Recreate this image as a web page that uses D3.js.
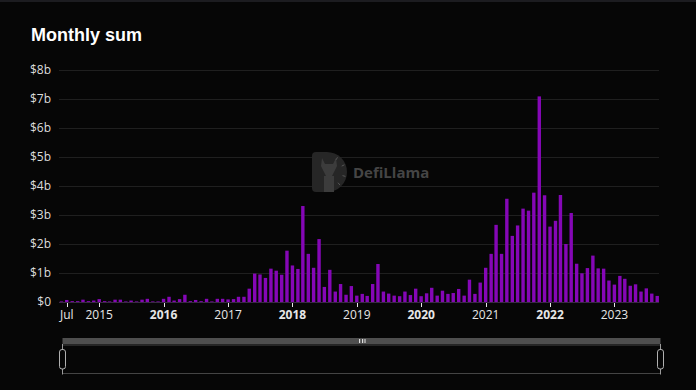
<!DOCTYPE html>
<html>
<head>
<meta charset="utf-8">
<script src="https://cdn.jsdelivr.net/npm/d3@7"></script>
<style>
  html, body { margin: 0; padding: 0; background: #060606; }
  .canvas { width: 696px; height: 390px; }
</style>
</head>
<body>
<div class="canvas"></div>
<script>
// Monthly sums in $ billions, one per month starting Jun 2014
const startMonth = new Date(2014, 5, 1);
const monthlySum = [
  // 2014 (Jun-Dec)
  0.02, 0.07, 0.03, 0.03, 0.08, 0.03, 0.05,
  // 2015
  0.10, 0.03, 0.02, 0.08, 0.08, 0.02, 0.05, 0.02, 0.08, 0.11, 0.02, 0.02,
  // 2016
  0.11, 0.18, 0.05, 0.10, 0.25, 0.03, 0.07, 0.03, 0.11, 0.02, 0.11, 0.11,
  // 2017
  0.09, 0.10, 0.18, 0.18, 0.46, 0.98, 0.95, 0.83, 1.15, 1.08, 0.94, 1.77,
  // 2018
  1.26, 1.14, 3.31, 1.66, 1.18, 2.17, 0.52, 1.11, 0.36, 0.62, 0.25, 0.55,
  // 2019
  0.22, 0.28, 0.21, 0.62, 1.31, 0.36, 0.29, 0.22, 0.20, 0.36, 0.24, 0.46,
  // 2020
  0.20, 0.30, 0.49, 0.22, 0.39, 0.28, 0.31, 0.45, 0.22, 0.77, 0.28, 0.67,
  // 2021
  1.18, 1.66, 2.66, 1.66, 3.56, 2.28, 2.64, 3.22, 3.15, 3.77, 7.09, 3.68,
  // 2022
  2.60, 2.80, 3.69, 2.00, 3.07, 1.32, 0.99, 1.17, 1.60, 1.16, 1.15, 0.74,
  // 2023 (Jan-Sep)
  0.60, 0.90, 0.80, 0.56, 0.61, 0.36, 0.47, 0.29, 0.21,
];

const yTicks = [0, 1, 2, 3, 4, 5, 6, 7, 8];
const xTicks = [
  { date: new Date(2014, 6, 1), label: "Jul", bold: false },
  { date: new Date(2015, 0, 1), label: "2015", bold: false },
  { date: new Date(2016, 0, 1), label: "2016", bold: true },
  { date: new Date(2017, 0, 1), label: "2017", bold: false },
  { date: new Date(2018, 0, 1), label: "2018", bold: true },
  { date: new Date(2019, 0, 1), label: "2019", bold: false },
  { date: new Date(2020, 0, 1), label: "2020", bold: true },
  { date: new Date(2021, 0, 1), label: "2021", bold: false },
  { date: new Date(2022, 0, 1), label: "2022", bold: true },
  { date: new Date(2023, 0, 1), label: "2023", bold: false },
];

const data = monthlySum.map((v, i) => ({
  date: d3.timeMonth.offset(startMonth, i),
  value: v,
}));

const dims = { width: 696, height: 390 };
const grid = { left: 59, right: 659, top: 70, bottom: 302 };

const svg = d3
  .select(".canvas")
  .append("svg")
  .attr("width", dims.width)
  .attr("height", dims.height);

svg.append("rect").attr("width", dims.width).attr("height", dims.height).attr("fill", "#060606");
svg.append("rect").attr("width", dims.width).attr("height", 2).attr("fill", "#1c1c20");

// Title
svg
  .append("text")
  .attr("x", 31)
  .attr("y", 41)
  .attr("fill", "#ffffff")
  .attr("font-family", "Liberation Sans, Arial, sans-serif")
  .attr("font-weight", "bold")
  .attr("font-size", 18)
  .text("Monthly sum");

// Scales
const x = d3
  .scaleTime()
  .domain([new Date(2014, 4, 18), new Date(2023, 8, 11)])
  .range([grid.left, grid.right]);

const y = d3.scaleLinear().domain([0, 8]).range([grid.bottom, grid.top]);

// Gridlines and y labels
const yAxis = svg.append("g");
yAxis
  .selectAll("line")
  .data(yTicks.slice(1))
  .enter()
  .append("line")
  .attr("x1", grid.left)
  .attr("x2", grid.right)
  .attr("y1", (d) => y(d) + 0.5)
  .attr("y2", (d) => y(d) + 0.5)
  .attr("stroke", "#1f1f1f");

yAxis
  .selectAll("text")
  .data(yTicks)
  .enter()
  .append("text")
  .attr("x", 51)
  .attr("y", (d) => y(d))
  .attr("dy", "0.35em")
  .attr("text-anchor", "end")
  .attr("fill", "#dddddd")
  .attr("font-family", "Open Sans, sans-serif")
  .attr("font-size", 12)
  .text((d) => (d === 0 ? "$0" : `$${d}b`));

// Watermark
const mark = svg.append("g").attr("transform", "translate(312, 152)");
mark
  .append("path")
  .attr("d", "M4,0 H15 A20,20 0 0 1 15,40 H4 A4,4 0 0 1 0,36 V4 A4,4 0 0 1 4,0 Z")
  .attr("fill", "#262626");
mark
  .append("path")
  .attr("d", "M10,6 L13,12 H21 L24,6 L25,14 L22,20 L20,24 H14 L12,20 L9,14 Z M12,24 H22 V40 H12 Z")
  .attr("fill", "#3c3c3c");
mark
  .selectAll("line.tick")
  .data([-60, -25, 15, 50])
  .enter()
  .append("line")
  .attr("x1", (d) => 17 + 14 * Math.cos((d * Math.PI) / 180))
  .attr("y1", (d) => 20 + 14 * Math.sin((d * Math.PI) / 180))
  .attr("x2", (d) => 17 + 17 * Math.cos((d * Math.PI) / 180))
  .attr("y2", (d) => 20 + 17 * Math.sin((d * Math.PI) / 180))
  .attr("stroke", "#555")
  .attr("stroke-width", 1);
svg
  .append("text")
  .attr("x", 353)
  .attr("y", 178)
  .attr("fill", "#454545")
  .attr("font-family", "Open Sans, sans-serif")
  .attr("font-weight", "bold")
  .attr("font-size", 15)
  .text("DefiLlama");

// Bars
const barWidth = 3.4;
svg
  .append("g")
  .selectAll("rect")
  .data(data)
  .enter()
  .append("rect")
  .attr("x", (d) => x(d.date) - barWidth / 2)
  .attr("y", (d) => y(d.value))
  .attr("width", barWidth)
  .attr("height", (d) => y(0) - y(d.value))
  .attr("fill", "#8507b6");

// X axis
const xAxis = svg.append("g");
xAxis
  .append("line")
  .attr("x1", grid.left)
  .attr("x2", grid.right)
  .attr("y1", grid.bottom + 0.5)
  .attr("y2", grid.bottom + 0.5)
  .attr("stroke", "#3a2a44");

xAxis
  .selectAll("line.tick")
  .data(xTicks)
  .enter()
  .append("line")
  .attr("class", "tick")
  .attr("x1", (d) => Math.round(x(d.date)) + 0.5)
  .attr("x2", (d) => Math.round(x(d.date)) + 0.5)
  .attr("y1", grid.bottom + 1)
  .attr("y2", grid.bottom + 5)
  .attr("stroke", "#e6e6e6");

xAxis
  .selectAll("text")
  .data(xTicks)
  .enter()
  .append("text")
  .attr("x", (d) => x(d.date))
  .attr("y", 319)
  .attr("text-anchor", "middle")
  .attr("fill", "#e6e6e6")
  .attr("font-family", "Open Sans, sans-serif")
  .attr("font-weight", (d) => (d.bold ? "bold" : "normal"))
  .attr("font-size", 12)
  .text((d) => d.label);

// Data zoom slider
const slider = svg.append("g");
const sl = { left: 62.5, right: 660.5, top: 338, bar: 344, bottom: 373.5 };

slider
  .append("rect")
  .attr("x", sl.left)
  .attr("y", sl.top)
  .attr("width", sl.right - sl.left)
  .attr("height", sl.bar - sl.top)
  .attr("fill", "#4e4e4e");

slider
  .append("rect")
  .attr("x", sl.left)
  .attr("y", sl.bar + 1)
  .attr("width", sl.right - sl.left)
  .attr("height", sl.bottom - sl.bar - 1)
  .attr("fill", "none")
  .attr("stroke", "#444");

slider
  .selectAll("rect.grip")
  .data([0, 3, 5])
  .enter()
  .append("rect")
  .attr("class", "grip")
  .attr("x", (d) => 359 + d)
  .attr("y", 339)
  .attr("width", (d) => (d === 5 ? 2 : 1.2))
  .attr("height", 4)
  .attr("fill", (d) => (d === 5 ? "#9a9a9a" : "#dddddd"));

[sl.left, sl.right].forEach((hx) => {
  slider
    .append("line")
    .attr("x1", hx)
    .attr("x2", hx)
    .attr("y1", sl.bar)
    .attr("y2", sl.bottom + 1)
    .attr("stroke", "#9a9a9a");
  slider
    .append("rect")
    .attr("x", hx - 3)
    .attr("y", 349.5)
    .attr("width", 6)
    .attr("height", 19.5)
    .attr("rx", 2.5)
    .attr("fill", "#060606")
    .attr("stroke", "#b0b0b0");
});
</script>
</body>
</html>
